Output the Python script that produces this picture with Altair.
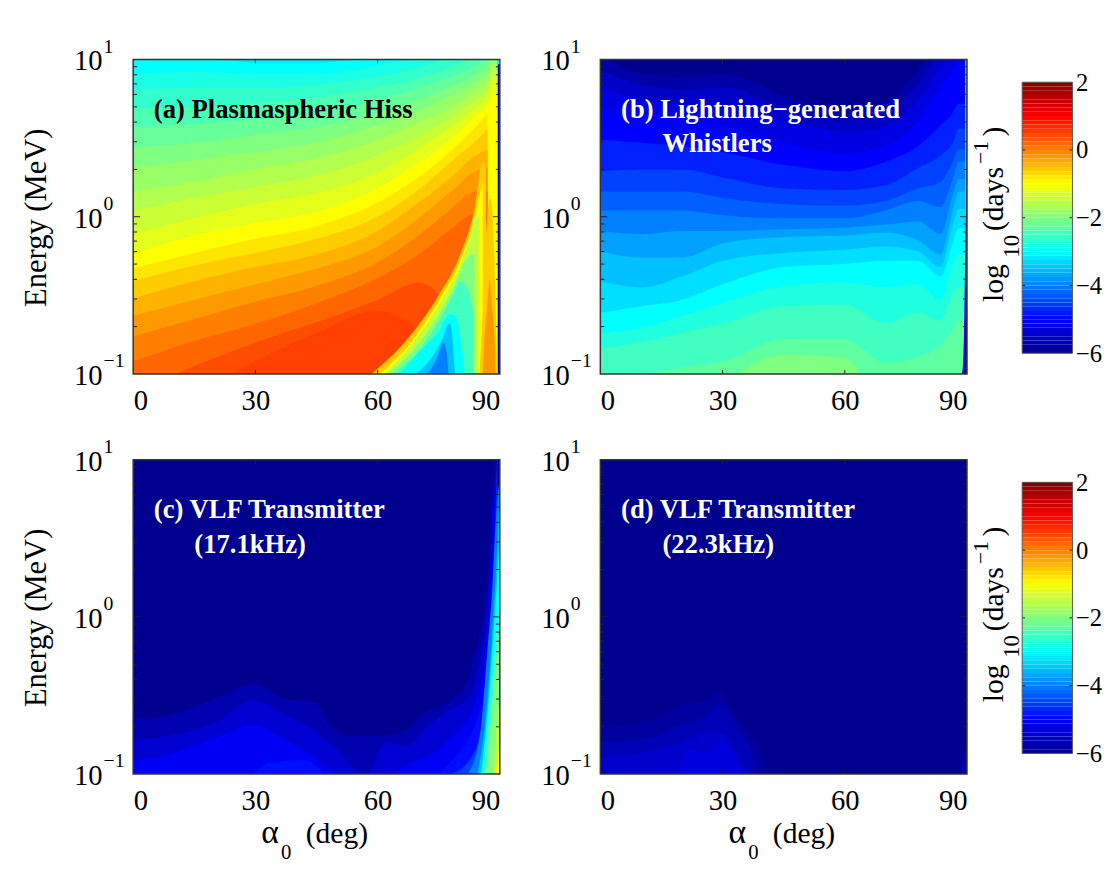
import altair as alt
import pandas as pd

FONT = "Liberation Serif"
W, H, CBW = 372, 319, 51
GAP_EXTRA = 46

JET_DOMAIN = [-6, -5, -4, -3, -2, -1, 0, 1, 2]
JET_RANGE = ["#00008f", "#0000ff", "#0080ff", "#00ffff", "#80ff80", "#ffff00", "#ff8000", "#ff0000", "#800000"]

# Each band: level (log10 rate), then alpha0 (deg) and log10(E/MeV) of its upper edge.
A_X = [0, 15, 30, 45, 60, 70, 78, 84, 87, 88.5, 89.5]
A_MAIN = {
    -3.2: [1.1] * 11,
    -3.0: [1.05, 1.03, .98, .98, 1.04, 1.2, 1.3, 1.3, 1.3, 1.3, 1.3],
    -2.8: [.91, .92, .91, .91, .96, 1.03, 1.12, 1.18, 1.25, 1.31, 1.31],
    -2.6: [.81, .82, .82, .84, .89, .95, 1.03, 1.10, 1.16, 1.25, 1.25],
    -2.4: [.69, .70, .72, .76, .82, .88, .95, 1.03, 1.10, 1.18, 1.18],
    -2.2: [.57, .59, .62, .66, .74, .82, .89, .96, 1.04, 1.12, 1.12],
    -2.0: [.44, .47, .52, .57, .66, .74, .83, .90, .97, 1.07, 1.07],
    -1.8: [.31, .36, .41, .47, .58, .67, .77, .85, .91, 1.02, 1.02],
    -1.6: [.16, .22, .30, .37, .49, .60, .69, .80, .86, .97, .97],
    -1.4: [.04, .12, .19, .26, .39, .51, .63, .74, .81, .93, .93],
    -1.2: [-.11, -.01, .08, .15, .28, .43, .57, .69, .77, .87, .87],
    -1.0: [-.24, -.12, -.04, .03, .18, .34, .49, .64, .71, .79, .79],
    -0.8: [-.33, -.23, -.14, -.06, .09, .25, .42, .57, .66],
    -0.6: [-.41, -.31, -.23, -.14, .0, .17, .35, .48, .56],
    -0.4: [-.52, -.41, -.32, -.24, -.09, .09, .25, .39, .43],
    -0.2: [-.63, -.53, -.43, -.33, -.19, -.01, .16, .29, .31],
    0.0: [-.76, -.65, -.54, -.44, -.29, -.12, .05, .16, .16],
    0.2: [-.92, -.79, -.68, -.55, -.39, -.24, -.08, .02, .01],
    0.4: [-1.12, -.95, -.80, -.67, -.53, -.42, -.61, -1.0, -1.0],
    0.5: [-1.24, -1.12, -.92, -.74, -.60, -.72, -1.03, -1.03, -1.03],
}
A_EXTRA = [
    (-0.6, [58.5, 66.9, 75, 80.6, 83.8, 85.8, 86.6], [-1, -.79, -.50, -.22, .05, .35, .31]),
    (-1.0, [60.5, 68.5, 75.8, 80.6, 83.4, 85, 85.8], [-1, -.79, -.50, -.26, -.05, .14, .22]),
    (-1.5, [61.7, 69.3, 76.2, 79.8, 82.6, 84.2, 84.8], [-1, -.78, -.51, -.34, -.13, 0, 0]),
    (-2.0, [62.5, 70.2, 75.8, 79, 81, 83, 83.8], [-1, -.8, -.59, -.43, -.3, -.24, -.24]),
    (-2.5, [63.7, 71, 75.8, 79, 80.2, 82.2, 83.4], [-1, -.82, -.63, -.47, -.41, -.47, -.6]),
    (-3.0, [65.3, 71, 75, 77.8, 79, 81.4], [-1, -.84, -.73, -.62, -.63, -1]),
    (-3.5, [69.3, 73.4, 76.2, 77.4, 77.8, 79], [-1, -.89, -.76, -.68, -.68, -1]),
    (-4.0, [72.2, 74.6, 76.2, 77, 77.4], [-1, -.9, -.8, -.87, -1]),
    (-0.6, [85, 85.8, 86.4, 87, 87.7, 88.3, 88.8, 89.3], [-1, -.6, -.22, .03, .12, -.02, -.4, -1]),
    (-0.2, [85.8, 86.2, 86.9, 87.5, 88, 88.7, 89], [-1, -.78, -.57, -.4, -.55, -.78, -1]),
    (-3.0, [89.3, 90], [1.1, 1.1]),
    (-5.0, [89.55, 90], [.97, .97]),
    (-5.8, [89.65, 90], [.95, .95]),
]

B_X = [0, 10, 20, 30, 45, 60, 70, 78, 83.5, 86.5, 88, 89.5]
B_MAIN = {
    -6.0: [1.1] * 12,
    -5.75: [1.02, .91, .89, .91, .77, .69, .74, .93, 1.16, 1.31, 1.37, 1.37],
    -5.5: [.93, .84, .81, .82, .70, .61, .66, .85, 1.06, 1.2, 1.27, 1.27],
    -5.25: [.83, .74, .71, .69, .61, .54, .57, .74, .95, 1.06, 1.1, 1.1],
    -5.0: [.69, .66, .63, .58, .47, .40, .45, .61, .83, .93, .99, .99],
    -4.75: [.49, .47, .45, .41, .33, .29, .35, .45, .58, .66, .72, .72],
    -4.5: [.29, .30, .30, .25, .18, .17, .2, .31, .39, .47, .56, .56],
    -4.25: [.16, .16, .16, .12, .08, .07, .1, .18, .22, .35, .43, .43],
    -4.0: [.04, .04, .04, .01, -.01, -.01, .04, .1, .06, .24, .35, .35],
    -3.75: [-.09, -.11, -.09, -.09, -.08, -.07, -.05, -.03, -.11, .14, .24, .24],
    -3.5: [-.22, -.26, -.26, -.17, -.13, -.12, -.1, -.15, -.24, .04, .16, .16],
    -3.25: [-.41, -.45, -.38, -.28, -.23, -.21, -.19, -.22, -.32, -.05, .05, .05],
    -3.0: [-.61, -.57, -.53, -.43, -.32, -.3, -.28, -.28, -.38, -.17, -.07, -.07],
    -2.75: [-.74, -.71, -.63, -.55, -.44, -.42, -.45, -.43, -.53, -.3, -.24, -.24],
    -2.5: [-.84, -.8, -.74, -.68, -.57, -.56, -.68, -.61, -.66, -.49, -.45, -.45],
    -2.25: [-1.03, -1, -.96, -.92, -.78, -.78, -.93, -.89, -.82, -.72, -.66, -.66],
    -2.0: [-1.2, -1.2, -1.2, -1.05, -.88, -.9, -1.2, -1.2, -1.2, -1.2, -1.2, -1.2],
}
B_EXTRA = [
    (-4.0, [89.6, 90], [1.1, 1.1]),
    (-5.0, [88.7, 89, 89.3, 89.6, 90], [-1, -.95, -.7, -.2, .2]),
    (-5.7, [89.2, 89.6, 90], [-1, -.85, -.4]),
]

C_BANDS = [
    (-6.0, [0, 90], [1.1, 1.1]),
    (-5.7, [0, 10.6, 21, 29.5, 37, 44.4, 48, 53, 60, 67, 71, 78, 82, 84, 86.5, 87.5, 88],
     [-.65, -.615, -.51, -.43, -.52, -.54, -.68, -.76, -.76, -.72, -.62, -.53, -.41, -.22, .11, .5, 1.1]),
    (-5.4, [0, 10, 21, 29.5, 37, 44, 50, 55, 57, 62, 67, 72, 78, 82, 85, 87, 88, 88.6],
     [-.79, -.75, -.66, -.53, -.62, -.72, -.84, -.98, -1, -.8, -.82, -.7, -.59, -.53, -.3, .11, .6, 1.1]),
    (-5.1, [0, 10, 21, 29.5, 37, 44, 50, 60, 68, 75, 80, 84, 86, 87.5, 88.5, 89],
     [-.92, -.865, -.76, -.69, -.78, -.885, -1, -1.05, -.93, -.84, -.72, -.55, -.3, .11, .6, 1.1]),
    (-4.9, [0, 29, 33, 42, 47, 50, 70, 76, 80, 84, 86.5, 88, 88.8, 89.2],
     [-1.1, -1, -.93, -.91, -1, -1.1, -1.1, -.97, -.86, -.68, -.41, .11, .6, 1.1]),
    (-4.5, [78, 82, 85, 87, 88, 88.8, 89.4], [-1, -.93, -.76, -.4, -.05, .4, 1.1]),
    (-4.0, [82, 85, 87, 88.2, 89, 90], [-1, -.78, -.2, .2, .6, .9]),
    (-3.5, [84.5, 86.5, 88, 89.2, 90], [-1, -.65, -.15, .35, .8]),
    (-3.0, [85.4, 87, 88.5, 89.5, 90], [-1, -.6, -.09, .3, .5]),
    (-2.5, [86, 87.5, 88.8, 90], [-1, -.6, -.2, .1]),
    (-2.0, [86.6, 88, 89.9, 90], [-1, -.6, -.09, -.07]),
    (-1.5, [88.3, 89.2, 90], [-1, -.7, -.5]),
    (-1.0, [89, 90], [-1, -.78]),
]

D_BANDS = [
    (-6.0, [0, 90], [1.1, 1.1]),
    (-5.85, [0, 12, 20, 26, 29.5, 32, 34, 38, 40.5, 41.5], [-.70, -.66, -.56, -.53, -.48, -.57, -.66, -.79, -.93, -1]),
    (-5.65, [0, 12, 20, 25, 29.5, 33, 36, 39], [-.80, -.77, -.69, -.65, -.55, -.68, -.8, -1]),
    (-5.45, [0, 10, 20, 25, 30, 33, 36], [-.90, -.865, -.8, -.74, -.74, -.84, -1]),
    (-5.3, [19, 22, 26, 30, 33, 35], [-1, -.84, -.865, -.8, -.905, -1]),
    (-5.5, [88.5, 89.5, 90], [-1, -.85, -.7]),
]

X_TICKS = [0, 30, 60, 90]
E_MAJOR = [0.1, 1, 10]
E_MINOR = [.2, .3, .4, .5, .6, .7, .8, .9, 2, 3, 4, 5, 6, 7, 8, 9]
E_LABELS = [(10, "1"), (1, "0"), (0.1, "\u22121")]
CB_TICKS = [-6, -4, -2, 0, 2]
CB_LOW = [-6 + i * 0.125 for i in range(64)]

one = pd.DataFrame({"a": [0]})
xs = alt.Scale(domain=[0, 90], range=[0, W], nice=False, zero=False)
ys = alt.Scale(type="log", domain=[0.1, 10], nice=False)
cs = alt.Scale(domain=JET_DOMAIN, range=JET_RANGE, interpolate="rgb")


def frame(bands):
    rows = []
    for i, (lvl, bx, be) in enumerate(bands):
        for x, e in zip(bx, be):
            rows.append({"id": f"b{i:03d}", "x": x, "E": 10 ** e, "E0": 0.1, "level": lvl})
    return pd.DataFrame(rows)


def txt(s, x, y, size, color="black", bold=False, **kw):
    return alt.Chart(one).mark_text(
        text=s, font=FONT, fontSize=size, color=color,
        fontWeight="bold" if bold else "normal", align="left", baseline="alphabetic", **kw
    ).encode(x=alt.value(x), y=alt.value(y))


def panel(bands, notes, left, bottom):
    yaxis = alt.Axis(labels=False, ticks=False, domain=False, grid=False, values=E_MAJOR,
                     title="Energy (MeV)" if left else None, titleFont=FONT, titleFontSize=31,
                     titleFontWeight="normal", titleColor="black", titleX=-82, titleY=160)
    xaxis = alt.Axis(values=X_TICKS, tickSize=0, domain=False, grid=False, title=None, labelFont=FONT,
                     labelFontSize=29, labelColor="black", labelPadding=13, labelAngle=0)
    areas = alt.Chart(frame(bands)).mark_area(interpolate="monotone", clip=True).encode(
        x=alt.X("x:Q", scale=xs, axis=xaxis),
        y=alt.Y("E:Q", scale=ys, axis=yaxis, stack=None),
        y2="E0:Q",
        color=alt.Color("level:Q", scale=cs, legend=None),
        detail="id:N",
    )
    maj = pd.DataFrame({"E": E_MAJOR[1:2]})
    mnr = pd.DataFrame({"E": E_MINOR})
    xt = pd.DataFrame({"x": X_TICKS[1:3]})
    rule = dict(color="#222", strokeWidth=1)
    yy = alt.Y("E:Q", scale=ys)
    xx = alt.X("x:Q", scale=xs)
    layers = [
        areas,
        alt.Chart(mnr).mark_rule(**rule).encode(y=yy, x=alt.value(0), x2=alt.value(4)),
        alt.Chart(mnr).mark_rule(**rule).encode(y=yy, x=alt.value(W - 4), x2=alt.value(W)),
        alt.Chart(maj).mark_rule(**rule).encode(y=yy, x=alt.value(0), x2=alt.value(7)),
        alt.Chart(maj).mark_rule(**rule).encode(y=yy, x=alt.value(W - 7), x2=alt.value(W)),
        alt.Chart(xt).mark_rule(**rule).encode(x=xx, y=alt.value(H - 4), y2=alt.value(H)),
        alt.Chart(xt).mark_rule(**rule).encode(x=xx, y=alt.value(0), y2=alt.value(4)),
        alt.Chart(one).mark_rect(filled=False, stroke="#333", strokeWidth=1.5).encode(
            x=alt.value(0), x2=alt.value(W), y=alt.value(0), y2=alt.value(H)),
    ]
    lab = pd.DataFrame({"E": [e for e, _ in E_LABELS], "ex": [x for _, x in E_LABELS], "b": ["10"] * 3})
    layers.append(alt.Chart(lab).mark_text(font=FONT, fontSize=29, align="right", baseline="alphabetic", dy=11,
                                           color="black").encode(y=yy, x=alt.value(-31), text="b:N"))
    layers.append(alt.Chart(lab).mark_text(font=FONT, fontSize=20, align="left", baseline="alphabetic", dy=-7,
                                           color="black").encode(y=yy, x=alt.value(-30), text="ex:N"))
    if bottom:
        layers += [txt("\u03b1", 130, 389, 34), txt("0", 150, 405, 21), txt("(deg)", 175, 389, 30)]
    layers += notes
    return alt.layer(*layers).properties(width=W + (GAP_EXTRA if left else 0), height=H)


def cbar():
    cy = alt.Scale(domain=[-6, 2], range=[298, 23], nice=False, zero=False)
    axis = alt.Axis(values=CB_TICKS, tickSize=0, domain=False, grid=False, title=None, orient="right",
                    labelFont=FONT, labelFontSize=25, labelColor="black", labelPadding=3,
                    labelExpr="datum.value < 0 ? '\u2212' + abs(datum.value) : '' + datum.value")
    d = pd.DataFrame({"low": CB_LOW})
    d["high"] = d["low"] + 0.125
    d["mid"] = d["low"] + 0.0625
    bar = alt.Chart(d).mark_rect().encode(
        y=alt.Y("low:Q", scale=cy, axis=axis), y2="high:Q",
        x=alt.value(0), x2=alt.value(CBW),
        color=alt.Color("mid:Q", scale=cs, legend=None),
    )
    t = pd.DataFrame({"v": CB_TICKS[1:-1]})
    ticks = [
        alt.Chart(t).mark_rule(color="#222").encode(y=alt.Y("v:Q", scale=cy), x=alt.value(0), x2=alt.value(3)),
        alt.Chart(t).mark_rule(color="#222").encode(y=alt.Y("v:Q", scale=cy), x=alt.value(CBW - 3), x2=alt.value(CBW)),
    ]
    border = alt.Chart(pd.DataFrame({"a": [-6], "b": [2]})).mark_rect(filled=False, stroke="#555").encode(
        y=alt.Y("a:Q", scale=cy), y2="b:Q", x=alt.value(0), x2=alt.value(CBW))
    title = [
        txt("log", -19, 246, 30, angle=270),
        txt("10", -3, 201, 23, angle=270),
        txt("(days", -19, 174, 30, angle=270),
        txt("\u22121", -35, 106, 22, angle=270),
        txt(")", -19, 78, 30, angle=270),
    ]
    return alt.layer(bar, *ticks, border, *title).properties(width=CBW, height=H)


a_bands = [(k, A_X[:len(v)], v) for k, v in A_MAIN.items()] + A_EXTRA
b_bands = [(k, B_X, v) for k, v in B_MAIN.items()] + B_EXTRA

pa = panel(a_bands, [txt("(a) Plasmaspheric Hiss", 21, 59, 27, bold=True)], True, False)
pb = panel(b_bands, [txt("(b) Lightning\u2212generated", 21, 59, 27, color="white", bold=True),
                     txt("Whistlers", 63, 94, 27, color="white", bold=True)], False, False)
pc = panel(C_BANDS, [txt("(c) VLF Transmitter", 21, 59, 27, color="white", bold=True),
                     txt("(17.1kHz)", 62, 95, 27, color="white", bold=True)], True, True)
pd_ = panel(D_BANDS, [txt("(d) VLF Transmitter", 21, 59, 27, color="white", bold=True),
                      txt("(22.3kHz)", 63, 95, 27, color="white", bold=True)], False, True)

chart = alt.concat(pa, pb, cbar(), pc, pd_, cbar(), columns=3,
                   spacing=alt.RowColnumber(column=56, row=87), bounds="flush").resolve_scale(
    x="independent", y="independent"
).properties(
    padding={"left": 12, "top": 22, "right": 0, "bottom": 0}, background="white"
).configure_view(stroke="transparent")

chart.save("out.html", embed_options={"renderer": "svg", "actions": False})
